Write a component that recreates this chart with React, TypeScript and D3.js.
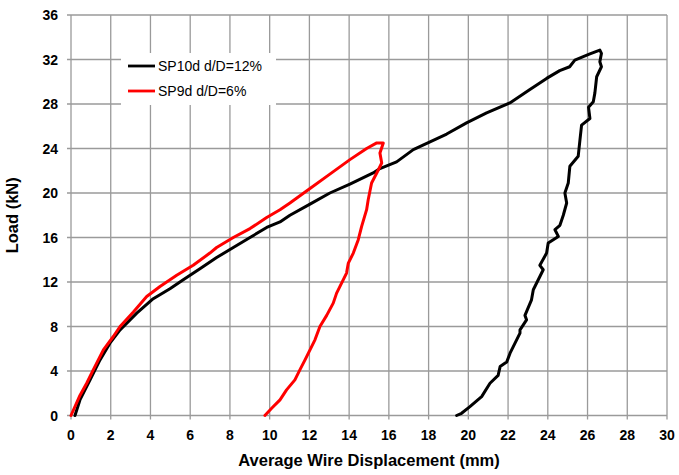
import * as d3 from "d3";
import React from "react";

// SP10d d/D=12% : [displacement mm, load kN]
const sp10d: [number, number][] = [
  [0.2, 0], [0.45, 1.4], [0.96, 3.2], [1.46, 5.0], [1.96, 6.5], [2.47, 7.7],
  [3.31, 9.2], [4.14, 10.5], [4.98, 11.4], [5.65, 12.2], [6.49, 13.2],
  [7.33, 14.2], [8.17, 15.1], [9.01, 16.0], [9.85, 16.9], [10.52, 17.4],
  [11.02, 18.0], [12.03, 19.0], [13.03, 20.0], [14.04, 20.8], [15.21, 21.8],
  [15.55, 22.2], [16.39, 22.8], [17.23, 23.9], [18.07, 24.6], [18.91, 25.3],
  [19.91, 26.3], [20.92, 27.2], [22.09, 28.1], [23.1, 29.3], [23.94, 30.3],
  [24.6, 31.0], [25.1, 31.35], [25.36, 31.95], [26.12, 32.5], [26.62, 32.85],
  [26.7, 32.55], [26.62, 31.8], [26.7, 31.35], [26.46, 30.45], [26.37, 29.0],
  [26.29, 28.2], [26.05, 27.7], [26.12, 26.7], [25.7, 26.1], [25.62, 24.8],
  [25.53, 23.3], [25.11, 22.4], [25.03, 20.9], [24.86, 20.0], [24.95, 19.1],
  [24.78, 18.0], [24.61, 17.1], [24.36, 16.7], [24.53, 16.1], [24.02, 15.5],
  [23.94, 14.6], [23.6, 13.5], [23.77, 13.1], [23.52, 12.2], [23.27, 11.3],
  [23.18, 10.4], [22.85, 9.0], [22.93, 8.6], [22.6, 7.7], [22.6, 7.4],
  [22.35, 6.5], [22.1, 5.6], [21.93, 4.8], [21.6, 4.4], [21.5, 3.6],
  [21.09, 2.9], [20.67, 1.7], [20.08, 0.8], [19.66, 0.2], [19.41, 0],
];

// SP9d d/D=6%
const sp9d: [number, number][] = [
  [0, 0], [0.45, 1.8], [0.79, 2.9], [1.12, 4.1], [1.63, 5.9], [2.13, 7.1],
  [2.47, 8.0], [3.14, 9.3], [3.81, 10.7], [4.48, 11.6], [5.32, 12.6],
  [6.15, 13.5], [6.99, 14.6], [7.33, 15.1], [8.17, 16.0], [9.01, 16.8],
  [9.85, 17.8], [10.52, 18.5], [11.02, 19.1], [12.03, 20.4], [13.03, 21.7],
  [14.04, 23.0], [14.88, 24.0], [15.39, 24.5], [15.72, 24.5], [15.55, 23.6],
  [15.64, 22.7], [15.39, 21.8], [15.13, 20.9], [14.96, 19.4], [14.88, 18.5],
  [14.63, 17.0], [14.46, 15.8], [14.21, 14.6], [13.96, 13.7], [13.87, 12.8],
  [13.62, 11.9], [13.37, 11.0], [13.2, 10.1], [12.87, 9.0], [12.53, 8.0],
  [12.28, 6.8], [12.03, 5.9], [11.78, 5.0], [11.52, 4.1], [11.27, 3.2],
  [10.85, 2.3], [10.52, 1.4], [10.1, 0.65], [9.76, 0],
];

const xTicks = d3.range(0, 31, 2);
const yTicks = d3.range(0, 37, 4);

const seriesNames = ["SP10d d/D=12%", "SP9d d/D=6%"];
const seriesColours = ["#000000", "#ff0000"];

export default function App() {
  const W = 679;
  const H = 475;
  const left = 71;
  const right = 667;
  const top = 15;
  const bottom = 415.5;

  const x = d3.scaleLinear().domain([0, 30]).range([left, right]);
  const y = d3.scaleLinear().domain([0, 36]).range([bottom, top]);

  const line = d3
    .line<[number, number]>()
    .x((d) => x(d[0]))
    .y((d) => y(d[1]));

  const font = "'Liberation Sans', Arial, sans-serif";
  const grid = "#9a9a9a";

  return (
    <svg
      width={W}
      height={H}
      style={{ position: "absolute", left: 0, top: 0, background: "#fff" }}
      fontFamily={font}
    >
      {/* gridlines */}
      {xTicks.map((t) => (
        <line key={"gx" + t} x1={x(t)} x2={x(t)} y1={top} y2={bottom + 4} stroke={grid} strokeWidth={1.3} />
      ))}
      {yTicks.map((t) => (
        <line key={"gy" + t} x1={left - 4} x2={right} y1={y(t)} y2={y(t)} stroke={grid} strokeWidth={1.3} />
      ))}

      {/* tick labels */}
      {xTicks.map((t) => (
        <text key={"tx" + t} x={x(t)} y={bottom + 24} textAnchor="middle" fontSize={14} fontWeight="bold">
          {t}
        </text>
      ))}
      {yTicks.map((t) => (
        <text key={"ty" + t} x={left - 13} y={y(t) + 5} textAnchor="end" fontSize={14} fontWeight="bold">
          {t}
        </text>
      ))}

      {/* legend */}
      <rect x={121} y={53} width={155} height={52} fill="#fff" />
      {seriesNames.map((n, i) => (
        <g key={n}>
          <line x1={128} x2={155} y1={66 + i * 25} y2={66 + i * 25} stroke={seriesColours[i]} strokeWidth={2.8} />
          <text x={158} y={71 + i * 25} fontSize={14}>
            {n}
          </text>
        </g>
      ))}

      {/* curves */}
      {[sp10d, sp9d].map((s, i) => (
        <path
          key={i}
          d={line(s) ?? ""}
          fill="none"
          stroke={seriesColours[i]}
          strokeWidth={3}
          strokeLinejoin="round"
          strokeLinecap="round"
        />
      ))}

      {/* axis titles */}
      <text x={369} y={466} textAnchor="middle" fontSize={16.5} fontWeight="bold">
        Average Wire Displacement (mm)
      </text>
      <text
        transform={`translate(18, ${(top + bottom) / 2}) rotate(-90)`}
        textAnchor="middle"
        fontSize={16.5}
        fontWeight="bold"
      >
        Load (kN)
      </text>
    </svg>
  );
}
